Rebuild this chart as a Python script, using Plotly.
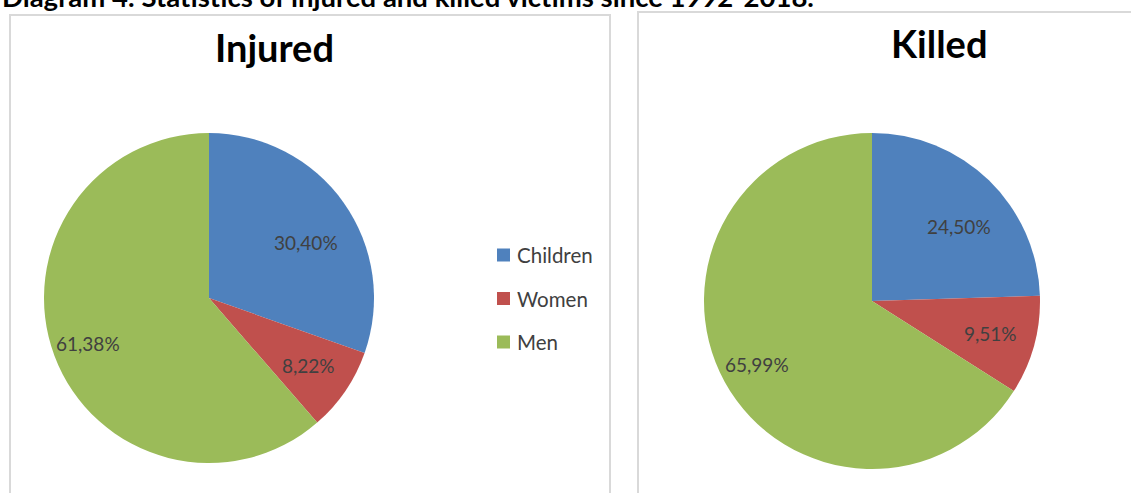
import math
import plotly.graph_objects as go

W, H = 1131, 493

# Data
categories = ["Children", "Women", "Men"]
injured = [30.40, 8.22, 61.38]
killed = [24.50, 9.51, 65.99]
colors = ["#4F81BD", "#C0504D", "#9BBB59"]
header = "Diagram 4: Statistics of injured and killed victims since 1992-2018."

# label placement per slice: radial fraction and small clockwise turn (degrees)
label_r = [0.68, 0.73, 0.78]
label_turn = [5.5, 0.0, 0.0]

FONT = "Lato"
TEXT_GRAY = "#404040"
BORDER = "#D9D9D9"


def fx(x):
    return x / W


def fy(y):
    return 1 - y / H


panels = [
    dict(title="Injured", values=injured, cx=209, cy=298, r=165, tx=274, ty=47),
    dict(title="Killed", values=killed, cx=872, cy=301, r=168, tx=939, ty=43),
]

fig = go.Figure()
annotations = []

for p in panels:
    cx, cy, r = p["cx"], p["cy"], p["r"]
    fig.add_trace(go.Pie(
        labels=categories,
        values=p["values"],
        marker=dict(colors=colors, line=dict(width=0)),
        sort=False,
        direction="clockwise",
        rotation=0,
        textinfo="none",
        hoverinfo="label+percent",
        showlegend=False,
        domain=dict(x=[fx(cx - r), fx(cx + r)], y=[fy(cy + r), fy(cy - r)]),
    ))
    # value labels along each slice
    total = sum(p["values"])
    start = 0.0
    for i, v in enumerate(p["values"]):
        mid = (start + v / 2) / total * 2 * math.pi + math.radians(label_turn[i])
        start += v
        lx = cx + label_r[i] * r * math.sin(mid)
        ly = cy - label_r[i] * r * math.cos(mid)
        annotations.append(dict(
            x=fx(lx), y=fy(ly), xref="paper", yref="paper",
            text=f"{v:.2f}%".replace(".", ","), showarrow=False,
            xanchor="center", yanchor="middle",
            font=dict(family=FONT, size=19, color=TEXT_GRAY),
        ))
    annotations.append(dict(
        x=fx(p["tx"]), y=fy(p["ty"]), xref="paper", yref="paper",
        text=f"<b>{p['title']}</b>", showarrow=False,
        xanchor="center", yanchor="middle",
        font=dict(family=FONT, size=38, color="#000000"),
    ))

# header line, running off the top of the page
annotations.append(dict(
    x=0, y=fy(-3.5), xref="paper", yref="paper",
    text=f"<b>{header}</b>", showarrow=False,
    xanchor="left", yanchor="middle",
    font=dict(family=FONT, size=27.5, color="#000000"),
))

# legend
shapes = []
for i, (cat, col) in enumerate(zip(categories, colors)):
    y = 255 + i * 43.5
    shapes.append(dict(type="rect", xref="paper", yref="paper",
                       x0=fx(497), x1=fx(510), y0=fy(y + 6.5), y1=fy(y - 6.5),
                       fillcolor=col, line=dict(width=0)))
    annotations.append(dict(
        x=fx(515), y=fy(y), xref="paper", yref="paper",
        text=cat, showarrow=False, xanchor="left", yanchor="middle",
        font=dict(family=FONT, size=20.5, color=TEXT_GRAY),
    ))

# panel frames
shapes.append(dict(type="rect", xref="paper", yref="paper",
                   x0=fx(10), x1=fx(610), y0=fy(520), y1=fy(15),
                   line=dict(color=BORDER, width=2), layer="below"))
shapes.append(dict(type="rect", xref="paper", yref="paper",
                   x0=fx(638), x1=fx(1160), y0=fy(520), y1=fy(12),
                   line=dict(color=BORDER, width=2), layer="below"))

fig.update_layout(
    width=W, height=H,
    margin=dict(l=0, r=0, t=0, b=0),
    paper_bgcolor="white", plot_bgcolor="white",
    annotations=annotations, shapes=shapes,
    showlegend=False,
)

fig.write_html("out.html")
